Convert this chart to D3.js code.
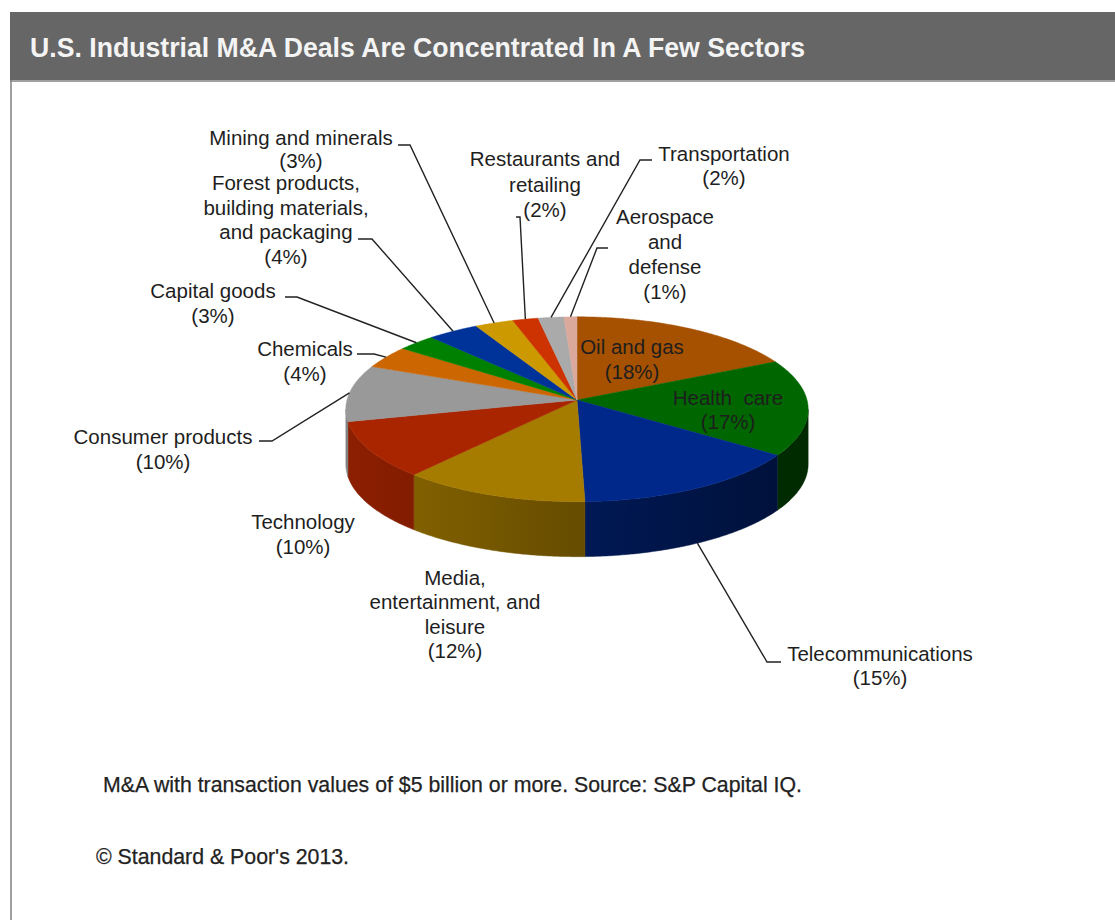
<!DOCTYPE html>
<html><head><meta charset="utf-8">
<script src="https://cdn.jsdelivr.net/npm/d3@7"></script>
<style>body{margin:0;background:#fff}</style></head>
<body><svg id="c" width="1115" height="920"></svg>
<script>
// ---- data ----
const title = "U.S. Industrial M&A Deals Are Concentrated In A Few Sectors";
const categories = ["Oil and gas","Health care","Telecommunications","Media, entertainment, and leisure","Technology","Consumer products","Chemicals","Capital goods","Forest products, building materials, and packaging","Mining and minerals","Restaurants and retailing","Transportation","Aerospace and defense"];
const shares = [18,17,15,12,10,10,4,3,4,3,2,2,1];
const labelText = [
  ["Oil and gas","(18%)"],
  ["Health  care","(17%)"],
  ["Telecommunications","(15%)"],
  ["Media,","entertainment, and","leisure","(12%)"],
  ["Technology","(10%)"],
  ["Consumer products","(10%)"],
  ["Chemicals","(4%)"],
  ["Capital goods","(3%)"],
  ["Forest products,","building materials,","and packaging","(4%)"],
  ["Mining and minerals","(3%)"],
  ["Restaurants and","retailing","(2%)"],
  ["Transportation","(2%)"],
  ["Aerospace","and","defense","(1%)"]
];
const footnote = "M&A with transaction values of $5 billion or more.  Source: S&P Capital IQ.";
const copyright = "\u00A9 Standard & Poor's 2013.";

// ---- styles / layout ----
const sliceColors = ["#A65100","#006600","#00288A","#A67C00","#A82500","#999999","#CC6600","#008000","#003399","#CC9900","#CC3300","#AAAAAA","#DAA99C"];
const CX = 577, CY = 400, RX = 230, RY = 91.5, K = 0.1, DEPTH = 55;
const labelLayout = [
  {x:632, y:354, lh:25},
  {x:728, y:405, lh:24},
  {x:880, y:661, lh:24, lead:[[781,662],[767,662]], bottom:true},
  {x:455, y:585, lh:24.3},
  {x:303, y:529, lh:24.5},
  {x:163, y:444, lh:24.5, lead:[[259,441],[272,441]]},
  {x:305, y:356, lh:24.5, lead:[[357,354],[374,354]]},
  {x:213, y:298, lh:24.5, lead:[[285,297],[297,297]]},
  {x:286, y:190, lh:24.7, lead:[[358,239],[372,239]]},
  {x:301, y:145, lh:22.5, lead:[[398,145],[410,145]]},
  {x:545, y:166, lh:25.5, lead:[[516,217],[520,217]]},
  {x:724, y:161, lh:24, lead:[[652,160],[640,160]]},
  {x:665, y:224, lh:25, lead:[[608,248],[597,248]]}
];

const svg = d3.select("#c");
const defs = svg.append("defs");

// frame & title bar
svg.append("rect").attr("x",0).attr("y",0).attr("width",1115).attr("height",920).attr("fill","#fff");
svg.append("rect").attr("x",10).attr("y",12).attr("width",1105).attr("height",68).attr("fill","#666666");
svg.append("line").attr("x1",10).attr("x2",1115).attr("y1",81).attr("y2",81).attr("stroke","#a0a0a0").attr("stroke-width",2);
svg.append("line").attr("x1",11).attr("x2",11).attr("y1",80).attr("y2",920).attr("stroke","#808080").attr("stroke-width",1.5);
svg.append("text").attr("x",30).attr("y",57).attr("fill","#f4f4f4")
  .attr("font-family","'Liberation Sans','Arial',sans-serif").attr("font-weight","bold")
  .attr("font-size",27).attr("textLength",775).attr("lengthAdjust","spacingAndGlyphs").text(title);

function proj(theta, dz=0){
  const u = Math.sin(theta), v = Math.cos(theta);
  const s = 1/(1+K*v);
  return [CX + RX*u*s, CY - RY*v*s + dz];
}
function shade(hex, f){ const c = d3.rgb(hex); return d3.rgb(c.r*f, c.g*f, c.b*f).formatHex(); }

const pie = d3.pie().sort(null).value(d=>d).startAngle(0).endAngle(2*Math.PI);
const arcs = pie(shares);
const line = d3.line();
const step = Math.PI/360;

const visA = Math.acos(-K), visB = 2*Math.PI - Math.acos(-K);

// side walls with horizontal gradient
const sideG = svg.append("g");
arcs.forEach((a,i)=>{
  const t0 = Math.max(a.startAngle, visA), t1 = Math.min(a.endAngle, visB);
  if(t1 <= t0) return;
  const gid = "side"+i;
  const g = defs.append("linearGradient").attr("id",gid).attr("gradientUnits","userSpaceOnUse")
    .attr("x1",CX-RX-2).attr("x2",CX+RX+2).attr("y1",0).attr("y2",0);
  d3.range(0,1.0001,0.1).forEach(p=>{
    const u = -1 + 2*p;
    g.append("stop").attr("offset",p).attr("stop-color",shade(sliceColors[i], 0.62-0.22*u));
  });
  const n = Math.max(2, Math.ceil((t1-t0)/step));
  const top = d3.range(n+1).map(j=>proj(t0+(t1-t0)*j/n));
  const bot = d3.range(n+1).map(j=>proj(t0+(t1-t0)*j/n, DEPTH)).reverse();
  sideG.append("path").attr("d", line([...top,...bot])+"Z").attr("fill",`url(#${gid})`)
    .attr("stroke",`url(#${gid})`).attr("stroke-width",0.5);
});

// top faces
svg.append("g").selectAll("path").data(arcs).join("path")
  .attr("d",a=>{
    const n = Math.max(2, Math.ceil((a.endAngle-a.startAngle)/step));
    const pts = [[CX,CY]];
    for(let j=0;j<=n;j++) pts.push(proj(a.startAngle + (a.endAngle-a.startAngle)*j/n));
    return line(pts)+"Z";
  })
  .attr("fill",(a,i)=>sliceColors[i]).attr("stroke",(a,i)=>sliceColors[i]).attr("stroke-width",0.5);

// leader lines
const leaders = svg.append("g").attr("fill","none").attr("stroke","#222").attr("stroke-width",1.4);
arcs.forEach((a,i)=>{
  const L = labelLayout[i];
  if(!L.lead) return;
  const mid = (a.startAngle+a.endAngle)/2;
  const end = proj(mid, L.bottom ? DEPTH : 0);
  leaders.append("path").attr("d", line([...L.lead, end]));
});

// labels
const lg = svg.append("g").attr("font-family","'Liberation Sans',Arial,sans-serif").attr("font-size",20.5).attr("fill","#1e1e1e").attr("text-anchor","middle");
labelText.forEach((lines,i)=>{
  const L = labelLayout[i];
  const t = lg.append("text").attr("x",L.x).attr("y",L.y).attr("xml:space","preserve");
  lines.forEach((s,k)=> t.append("tspan").attr("x",L.x).attr("y",L.y + k*L.lh).text(s));
});

// footer
svg.append("text").attr("x",103).attr("y",792).attr("font-family","'Liberation Sans',Arial,sans-serif")
  .attr("font-size",21.5).attr("fill","#222").attr("stroke","#222").attr("stroke-width",0.25)
  .attr("textLength",699).attr("lengthAdjust","spacingAndGlyphs").text(footnote);
svg.append("text").attr("x",96).attr("y",864).attr("font-family","'Liberation Sans',Arial,sans-serif")
  .attr("font-size",21.5).attr("fill","#222").attr("stroke","#222").attr("stroke-width",0.25)
  .attr("textLength",253).attr("lengthAdjust","spacingAndGlyphs").text(copyright);
</script></body></html>
